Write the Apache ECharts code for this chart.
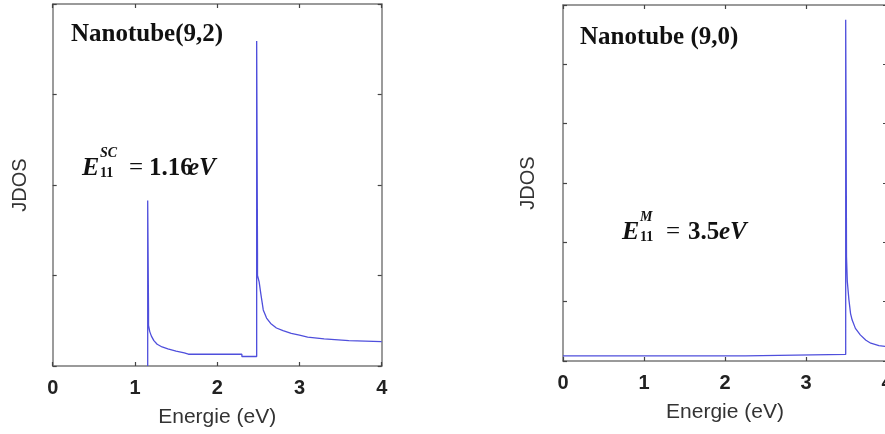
<!DOCTYPE html>
<html>
<head>
<meta charset="utf-8">
<script src="https://cdn.jsdelivr.net/npm/echarts@6/dist/echarts.min.js"></script>
<style>
  html, body { margin: 0; padding: 0; background: #fff; }
  #chart { width: 885px; height: 434px; }
</style>
</head>
<body>
<div id="chart"></div>
<script>
// Energy axis (eV), shared by both panels
const energyTicks = [0, 1, 2, 3, 4];

// Joint density of states, nanotube (9,2): [energy eV, JDOS (arb. units)]
const jdos92 = [
  [1.155, 0], [1.155, 1.83], [1.165, 0.62], [1.165, 0.45], [1.18, 0.38],
  [1.20, 0.33], [1.23, 0.28], [1.27, 0.24], [1.33, 0.21], [1.40, 0.19],
  [1.50, 0.165], [1.60, 0.145], [1.65, 0.13], [2.30, 0.13], [2.30, 0.105],
  [2.48, 0.105], [2.48, 3.59], [2.49, 1.25], [2.49, 1.0], [2.51, 0.93],
  [2.53, 0.80], [2.56, 0.62], [2.60, 0.53], [2.65, 0.47], [2.72, 0.42],
  [2.80, 0.39], [2.90, 0.36], [3.00, 0.34], [3.10, 0.32], [3.30, 0.30],
  [3.60, 0.28], [4.00, 0.27]
];

// Joint density of states, nanotube (9,0)
const jdos90 = [
  [0, 0.085], [2.25, 0.085], [2.25, 0.11], [3.49, 0.11], [3.49, 5.75],
  [3.495, 4.12], [3.50, 1.76], [3.51, 1.34], [3.53, 1.03], [3.55, 0.80],
  [3.57, 0.69], [3.61, 0.55], [3.67, 0.44], [3.74, 0.35], [3.80, 0.30],
  [3.90, 0.26], [4.00, 0.24]
];

// Panel titles and transition-energy annotations
const titles = ['Nanotube(9,2)', 'Nanotube (9,0)'];
const e11 = [
  { sup: 'SC', value: '1.16' },
  { sup: 'M', value: '3.5' }
];

const frameColor = '#7a7a7a';
const lineColor = '#4f4fdc';
const serif = 'Liberation Serif, Times New Roman, serif';
const sans = 'Liberation Sans, Arial, sans-serif';

function xAxes(grid, gap) {
  const base = {
    gridIndex: grid, type: 'value', min: energyTicks[0], max: energyTicks[energyTicks.length - 1], interval: 1,
    splitLine: { show: false },
    axisLine: { show: true, onZero: false, lineStyle: { color: frameColor, width: 1.5 } },
    axisTick: { show: true, inside: true, length: 4, lineStyle: { color: '#444', width: 1.2 } }
  };
  return [
    Object.assign({}, base, {
      position: 'bottom',
      axisLabel: { show: true, margin: 12, fontSize: 20, fontWeight: 'bold', color: '#222', fontFamily: sans },
      name: 'Energie (eV)', nameLocation: 'middle', nameGap: gap,
      nameTextStyle: { fontSize: 21, color: '#333', fontFamily: sans }
    }),
    Object.assign({}, base, { position: 'top', axisLabel: { show: false } })
  ];
}

function yAxes(grid, max, gap) {
  const base = {
    gridIndex: grid, type: 'value', min: 0, max: max, interval: 1,
    splitLine: { show: false },
    axisLabel: { show: false },
    axisLine: { show: true, onZero: false, lineStyle: { color: frameColor, width: 1.5 } },
    axisTick: { show: true, inside: true, length: 4, lineStyle: { color: '#444', width: 1.2 } }
  };
  return [
    Object.assign({}, base, {
      position: 'left',
      name: 'JDOS', nameLocation: 'middle', nameGap: gap, nameRotate: 90,
      nameTextStyle: { fontSize: 20, color: '#333', fontFamily: sans }
    }),
    Object.assign({}, base, { position: 'right' })
  ];
}

// E_11 label built from pieces: main letter, stacked super/subscript, then "= value eV"
function energyLabel(x, y, ann, gaps) {
  const big = 25, small = 14;
  return [
    { type: 'text', left: x, top: y - 13, style: { text: 'E', font: 'italic bold 26px ' + serif, fill: '#111' } },
    { type: 'text', left: x + gaps.script, top: y - 22, style: { text: ann.sup, font: 'italic bold ' + small + 'px ' + serif, fill: '#111' } },
    { type: 'text', left: x + gaps.script, top: y - 2, style: { text: '11', font: 'bold ' + small + 'px ' + serif, fill: '#111' } },
    { type: 'text', left: x + gaps.eq, top: y - 12, style: { text: '=', font: big + 'px ' + serif, fill: '#111' } },
    { type: 'text', left: x + gaps.num, top: y - 12, style: { text: ann.value, font: 'bold ' + big + 'px ' + serif, fill: '#111' } },
    { type: 'text', left: x + gaps.unit, top: y - 12, style: { text: 'eV', font: 'italic bold ' + big + 'px ' + serif, fill: '#111' } }
  ];
}

const chart = echarts.init(document.getElementById('chart'), null, { renderer: 'canvas' });

chart.setOption({
  animation: false,
  backgroundColor: '#fff',
  grid: [
    { left: 52.7, top: 4, width: 329, height: 362, outerBoundsMode: 'none' },
    { left: 563, top: 5, width: 324, height: 356, outerBoundsMode: 'none' }
  ],
  title: [
    { text: titles[0], left: 71, top: 22, padding: 0, textStyle: { fontFamily: serif, fontWeight: 'bold', fontSize: 25, color: '#111' } },
    { text: titles[1], left: 580, top: 25, padding: 0, textStyle: { fontFamily: serif, fontWeight: 'bold', fontSize: 25, color: '#111' } }
  ],
  xAxis: [].concat(xAxes(0, 41), xAxes(1, 41)),
  yAxis: [].concat(yAxes(0, 4, 22), yAxes(1, 6, 25)),
  series: [
    {
      type: 'line', xAxisIndex: 0, yAxisIndex: 0, data: jdos92,
      showSymbol: false, lineStyle: { color: lineColor, width: 1.3 }, z: 1
    },
    {
      type: 'line', xAxisIndex: 2, yAxisIndex: 2, data: jdos90,
      showSymbol: false, lineStyle: { color: lineColor, width: 1.3 }, z: 1
    }
  ],
  graphic: [].concat(
    energyLabel(82, 168, e11[0], { script: 18, eq: 47, num: 67, unit: 106 }),
    energyLabel(622, 232, e11[1], { script: 18, eq: 44, num: 66, unit: 97 })
  )
});
</script>
</body>
</html>
